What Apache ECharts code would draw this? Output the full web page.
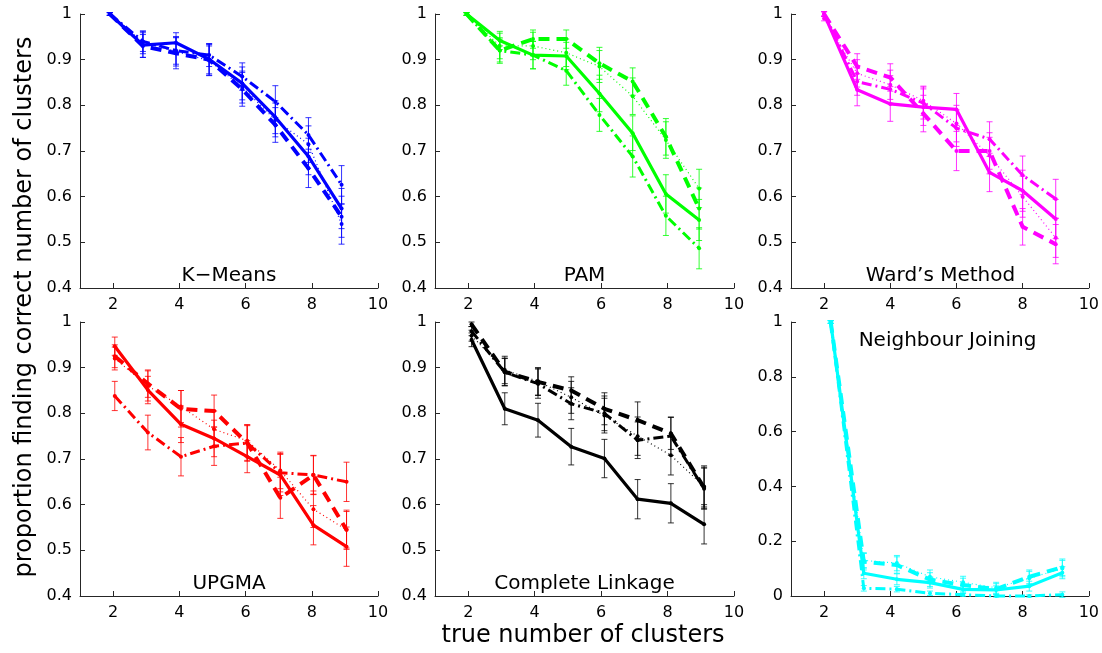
<!DOCTYPE html>
<html><head><meta charset="utf-8">
<script src="https://cdn.jsdelivr.net/npm/echarts@6/dist/echarts.min.js"></script>
<style>html,body{margin:0;padding:0;background:#fff}#c{width:1102px;height:653px}</style>
</head><body><div id="c"></div>
<script>
// ---------------- DATA ----------------
const xValues = [2, 3, 4, 5, 6, 7, 8, 9];
const xTickLabels = [2, 4, 6, 8, 10];
const yTicksTop = [0.4, 0.5, 0.6, 0.7, 0.8, 0.9, 1];
const yTicksNJ = [0, 0.2, 0.4, 0.6, 0.8, 1];
const panelTitles = ['K\u2212Means', 'PAM', 'Ward\u2019s Method', 'UPGMA', 'Complete Linkage', 'Neighbour Joining'];
const panelColors = ['#0000ff', '#00ff00', '#ff00ff', '#ff0000', '#000000', '#00ffff'];
const xOffsets = [-0.1, -0.05, 0, 0.05, 0.1, 0.2];
const xAxisTitle = 'true number of clusters';
const yAxisTitle = 'proportion finding correct number of clusters';

// K-Means
const kmSolid   = [1.0, 0.932, 0.937, 0.901, 0.848, 0.774, 0.688, 0.574];
const kmDashed  = [1.0, 0.930, 0.914, 0.900, 0.835, 0.757, 0.662, 0.556];
const kmDashDot = [1.0, 0.940, 0.920, 0.910, 0.863, 0.808, 0.735, 0.626];
const kmDotted  = [1.0, 0.938, 0.918, 0.898, 0.840, 0.768, 0.715, 0.540];
const kmSolidErr   = [0.003, 0.027, 0.022, 0.032, 0.036, 0.036, 0.040, 0.044];
const kmDashedErr  = [0.003, 0.025, 0.034, 0.035, 0.037, 0.038, 0.042, 0.045];
const kmDashDotErr = [0.003, 0.022, 0.030, 0.025, 0.030, 0.035, 0.038, 0.042];
const kmDottedErr  = [0.003, 0.025, 0.032, 0.032, 0.035, 0.037, 0.040, 0.044];
// PAM
const pamSolid   = [1.0, 0.942, 0.910, 0.908, 0.826, 0.739, 0.606, 0.549];
const pamDashed  = [1.0, 0.920, 0.945, 0.945, 0.892, 0.852, 0.731, 0.574];
const pamDashDot = [1.0, 0.920, 0.910, 0.876, 0.779, 0.688, 0.558, 0.487];
const pamDotted  = [1.0, 0.930, 0.930, 0.915, 0.885, 0.820, 0.724, 0.618];
const pamSolidErr   = [0.003, 0.020, 0.030, 0.030, 0.040, 0.038, 0.042, 0.045];
const pamDashedErr  = [0.003, 0.025, 0.020, 0.020, 0.035, 0.030, 0.040, 0.045];
const pamDashDotErr = [0.003, 0.028, 0.030, 0.032, 0.036, 0.045, 0.043, 0.045];
const pamDottedErr  = [0.003, 0.028, 0.030, 0.030, 0.035, 0.040, 0.040, 0.042];
// Ward's Method
const wardSolid   = [1.0, 0.834, 0.803, 0.796, 0.791, 0.653, 0.613, 0.551];
const wardDashed  = [1.0, 0.885, 0.861, 0.782, 0.700, 0.700, 0.534, 0.496];
const wardDashDot = [1.0, 0.852, 0.835, 0.805, 0.750, 0.726, 0.647, 0.595];
const wardDotted  = [0.99, 0.870, 0.845, 0.810, 0.760, 0.690, 0.600, 0.510];
const wardSolidErr   = [0.005, 0.035, 0.038, 0.040, 0.035, 0.042, 0.045, 0.043];
const wardDashedErr  = [0.005, 0.028, 0.030, 0.040, 0.043, 0.040, 0.040, 0.043];
const wardDashDotErr = [0.005, 0.030, 0.030, 0.035, 0.040, 0.038, 0.042, 0.043];
const wardDottedErr  = [0.005, 0.030, 0.032, 0.032, 0.040, 0.040, 0.045, 0.043];
// UPGMA
const upSolid   = [0.947, 0.851, 0.776, 0.745, 0.705, 0.665, 0.555, 0.508];
const upDashed  = [0.925, 0.865, 0.810, 0.805, 0.735, 0.615, 0.665, 0.545];
const upDashDot = [0.838, 0.758, 0.705, 0.728, 0.735, 0.670, 0.665, 0.650];
const upDotted  = [0.920, 0.860, 0.815, 0.765, 0.740, 0.675, 0.590, 0.545];
const upSolidErr   = [0.020, 0.030, 0.040, 0.040, 0.035, 0.045, 0.043, 0.043];
const upDashedErr  = [0.025, 0.030, 0.040, 0.035, 0.040, 0.045, 0.042, 0.043];
const upDashDotErr = [0.032, 0.038, 0.042, 0.042, 0.038, 0.042, 0.043, 0.043];
const upDottedErr  = [0.025, 0.033, 0.035, 0.040, 0.035, 0.040, 0.040, 0.040];
// Complete Linkage
const clSolid   = [0.961, 0.810, 0.785, 0.727, 0.701, 0.612, 0.603, 0.557];
const clDashed  = [0.995, 0.891, 0.869, 0.850, 0.810, 0.785, 0.756, 0.637];
const clDashDot = [0.980, 0.890, 0.865, 0.821, 0.800, 0.741, 0.750, 0.635];
const clDotted  = [0.970, 0.895, 0.870, 0.835, 0.795, 0.750, 0.708, 0.640];
const clSolidErr   = [0.015, 0.035, 0.037, 0.040, 0.042, 0.043, 0.043, 0.043];
const clDashedErr  = [0.005, 0.030, 0.030, 0.030, 0.035, 0.040, 0.035, 0.045];
const clDashDotErr = [0.010, 0.030, 0.032, 0.035, 0.038, 0.040, 0.042, 0.045];
const clDottedErr  = [0.012, 0.030, 0.030, 0.035, 0.038, 0.042, 0.043, 0.045];
// Neighbour Joining
const njSolid   = [1.0, 0.083, 0.061, 0.049, 0.024, 0.022, 0.036, 0.085];
const njDashed  = [1.0, 0.125, 0.113, 0.060, 0.040, 0.025, 0.070, 0.105];
const njDashDot = [1.0, 0.028, 0.025, 0.010, 0.005, 0.000, 0.000, 0.005];
const njDotted  = [1.0, 0.130, 0.120, 0.070, 0.050, 0.030, 0.065, 0.100];
const njSolidErr   = [0.005, 0.020, 0.020, 0.020, 0.015, 0.015, 0.018, 0.022];
const njDashedErr  = [0.005, 0.030, 0.030, 0.025, 0.025, 0.020, 0.025, 0.030];
const njDashDotErr = [0.005, 0.010, 0.010, 0.008, 0.006, 0.004, 0.004, 0.010];
const njDottedErr  = [0.005, 0.028, 0.028, 0.025, 0.022, 0.020, 0.025, 0.030];

const panels = [
  [kmSolid, kmDashed, kmDashDot, kmDotted, kmSolidErr, kmDashedErr, kmDashDotErr, kmDottedErr],
  [pamSolid, pamDashed, pamDashDot, pamDotted, pamSolidErr, pamDashedErr, pamDashDotErr, pamDottedErr],
  [wardSolid, wardDashed, wardDashDot, wardDotted, wardSolidErr, wardDashedErr, wardDashDotErr, wardDottedErr],
  [upSolid, upDashed, upDashDot, upDotted, upSolidErr, upDashedErr, upDashDotErr, upDottedErr],
  [clSolid, clDashed, clDashDot, clDotted, clSolidErr, clDashedErr, clDashDotErr, clDottedErr],
  [njSolid, njDashed, njDashDot, njDotted, njSolidErr, njDashedErr, njDashDotErr, njDottedErr]
];

// ---------------- LAYOUT / STYLE ----------------
const FONT = '"DejaVu Sans", "Liberation Sans", sans-serif';
const lefts = [80, 435, 791];
const widths = [298, 299, 299];
const tops = [14, 322];
const H = 274;
const lineStyles = [
  {type: 'solid', width: 3.2},
  {type: [11, 7], width: 4},
  {type: [10, 4, 2, 4], width: 3},
  {type: [1, 3], width: 1.2}
];

const grids = [], xAxes = [], yAxes = [], series = [], graphics = [];
panels.forEach((p, i) => {
  const r = Math.floor(i / 3), c = i % 3;
  grids.push({left: lefts[c], top: tops[r], width: widths[c], height: H, containLabel: false});
  const ticks = xTickLabels;
  xAxes.push({
    type: 'value', gridIndex: i, min: 1, max: 10,
    axisLine: {show: true, lineStyle: {color: '#262626', width: 1}},
    axisTick: {show: true, inside: true, length: 5, customValues: ticks, lineStyle: {color: '#262626'}},
    axisLabel: {customValues: ticks, color: '#000', fontFamily: FONT, fontSize: 16, margin: 9},
    splitLine: {show: false}
  });
  const nj = i === 5;
  const yt = nj ? yTicksNJ : yTicksTop;
  yAxes.push({
    type: 'value', gridIndex: i, min: yt[0], max: yt[yt.length - 1], interval: nj ? 0.2 : 0.1,
    axisLine: {show: true, lineStyle: {color: '#262626', width: 1}},
    axisTick: {show: true, inside: true, length: 5, lineStyle: {color: '#262626'}},
    axisLabel: {color: '#000', fontFamily: FONT, fontSize: 16, margin: 8},
    splitLine: {show: false}
  });
  const col = panelColors[i];
  for (let s = 0; s < 4; s++) {
    const vals = p[s], errs = p[s + 4];
    const ebData = xValues.map((x, k) => [x + xOffsets[i], vals[k] - errs[k], vals[k] + errs[k]]);
    series.push({
      type: 'custom', xAxisIndex: i, yAxisIndex: i, data: ebData, clip: false, silent: true, z: 2,
      renderItem: function (params, api) {
        const x = api.value(0), lo = api.value(1), hi = api.value(2);
        const a = api.coord([x, lo]), b = api.coord([x, hi]);
        const st = {stroke: col, lineWidth: 1, opacity: 0.8};
        const cap = 3;
        return {type: 'group', children: [
          {type: 'line', shape: {x1: a[0], y1: a[1], x2: b[0], y2: b[1]}, style: st},
          {type: 'line', shape: {x1: a[0] - cap, y1: a[1], x2: a[0] + cap, y2: a[1]}, style: st},
          {type: 'line', shape: {x1: b[0] - cap, y1: b[1], x2: b[0] + cap, y2: b[1]}, style: st}
        ]};
      }
    });
    series.push({
      type: 'line', xAxisIndex: i, yAxisIndex: i, z: 3,
      data: xValues.map((x, k) => [x + xOffsets[i], vals[k]]),
      showSymbol: true, symbol: 'circle', symbolSize: 4,
      itemStyle: {color: col}, lineStyle: Object.assign({color: col}, lineStyles[s]),
      clip: false, silent: true
    });
  }
  // panel title
  const cx = lefts[c] + widths[c] / 2;
  const titleY = nj ? tops[r] + 19 : tops[r] + H - 12;
  graphics.push({type: 'text', x: nj ? cx + 7 : cx, y: titleY, style: {
    text: panelTitles[i], fill: '#000', font: '20px ' + FONT, textAlign: 'center', textVerticalAlign: 'middle'}});
});
graphics.push({type: 'text', x: 583, y: 636, style: {
  text: xAxisTitle, fill: '#000', font: '24px ' + FONT, textAlign: 'center', textVerticalAlign: 'middle'}});
graphics.push({type: 'text', x: 25, y: 307, rotation: Math.PI / 2, style: {
  text: yAxisTitle, fill: '#000', font: '24px ' + FONT, textAlign: 'center', textVerticalAlign: 'middle'}});

const chart = echarts.init(document.getElementById('c'), null, {renderer: 'canvas'});
chart.setOption({
  animation: false,
  backgroundColor: '#fff',
  grid: grids, xAxis: xAxes, yAxis: yAxes, series: series, graphic: graphics
});
</script>
</body></html>
